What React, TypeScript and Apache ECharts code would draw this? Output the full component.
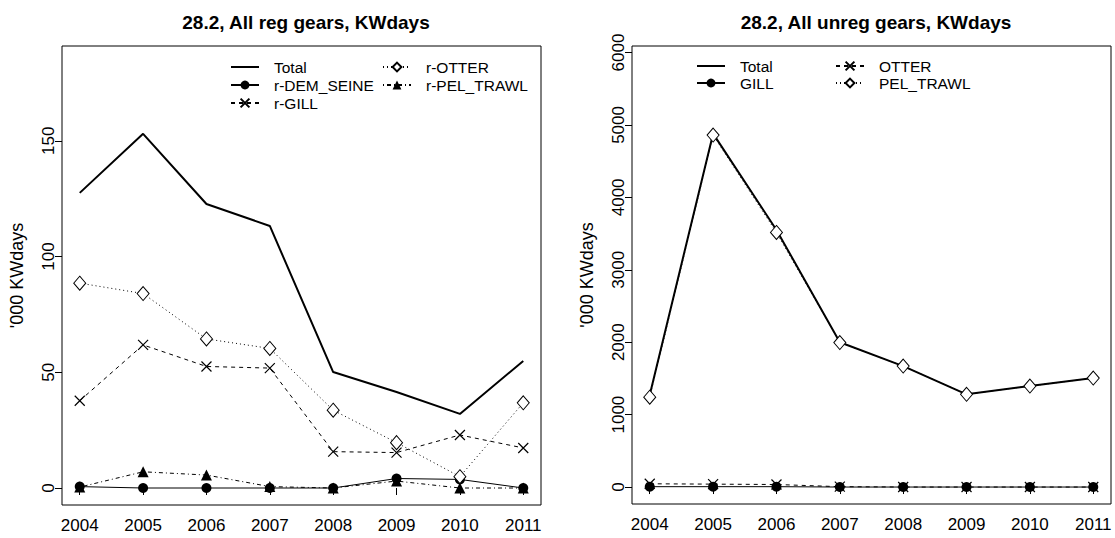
import React, { useEffect, useRef } from "react";
import * as echarts from "echarts";

const years = [2004, 2005, 2006, 2007, 2008, 2009, 2010, 2011];

// Left panel: 28.2, All reg gears
const leftTotal = [127.5, 153, 122.7, 113.2, 50.1, 41.5, 32, 54.9];
const leftDemSeine = [0.6, 0, 0, 0, 0, 4.1, 3.7, 0];
const leftGill = [37.7, 61.8, 52.5, 51.8, 15.7, 15.3, 22.9, 17.3];
const leftOtter = [88.5, 84, 64.4, 60.3, 33.6, 19.6, 4.9, 36.8];
const leftPelTrawl = [0.4, 7, 5.6, 0.6, 0, 3, 0, 0];

// Right panel: 28.2, All unreg gears
const rightTotal = [1270, 4880, 3550, 2000, 1670, 1280, 1395, 1505];
const rightGill = [5, 5, 5, 0, 0, 0, 0, 0];
const rightOtter = [45, 40, 35, 5, 0, 0, 0, 0];
const rightPelTrawl = [1240, 4860, 3515, 1995, 1670, 1280, 1395, 1505];

const leftYTicks = [0, 50, 100, 150];
const rightYTicks = [0, 1000, 2000, 3000, 4000, 5000, 6000];

const leftTitle = "28.2, All reg gears, KWdays";
const rightTitle = "28.2, All unreg gears, KWdays";
const yName = "'000 KWdays";

const FONT = "Liberation Sans, Arial, Helvetica, sans-serif";
const X_SYMBOL = "path://M0,0L10,10M10,0L0,10";

const pairs = (vals: number[]) => years.map((y, i) => [y, vals[i]]);

function lineSeries(
  name: string,
  vals: number[],
  idx: number,
  kind: "total" | "circle" | "cross" | "diamond" | "triangle",
  dash: any
) {
  const base: any = {
    type: "line",
    name,
    data: pairs(vals),
    xAxisIndex: idx,
    yAxisIndex: idx,
    lineStyle: { color: "#000", width: 1, type: dash },
    emphasis: { disabled: true },
    silent: true,
  };
  if (kind === "total") {
    base.symbol = "none";
    base.lineStyle.width = 2;
    base.itemStyle = { color: "rgba(0,0,0,0)", borderWidth: 0 };
  } else if (kind === "circle") {
    base.symbol = "circle";
    base.symbolSize = 10;
    base.itemStyle = { color: "#000" };
  } else if (kind === "triangle") {
    base.symbol = "triangle";
    base.symbolSize = 11;
    base.itemStyle = { color: "#000" };
  } else if (kind === "diamond") {
    base.symbol = "diamond";
    base.symbolSize = [12, 14];
    base.itemStyle = { color: "#fff", borderColor: "#000", borderWidth: 1 };
  } else {
    base.symbol = X_SYMBOL;
    base.symbolSize = 10;
    base.itemStyle = { color: "none", borderColor: "#000", borderWidth: 1.2 };
  }
  return base;
}

function xAxisCfg(gridIndex: number) {
  return {
    type: "value",
    gridIndex,
    min: 2004 - 0.28,
    max: 2011 + 0.28,
    splitLine: { show: false },
    axisLine: { show: false },
    axisTick: {
      show: true,
      inside: false,
      length: 7,
      customValues: years,
      lineStyle: { color: "#000", width: 1 },
    },
    axisLabel: {
      customValues: years,
      formatter: (v: number) => String(v),
      color: "#000",
      fontFamily: FONT,
      fontSize: 17,
      margin: 12,
    },
  };
}

function yAxisCfg(gridIndex: number, ticks: number[], maxData: number) {
  const pad = maxData * 0.04;
  return {
    type: "value",
    gridIndex,
    min: -pad,
    max: maxData + pad,
    splitLine: { show: false },
    axisLine: { show: false },
    name: yName,
    nameLocation: "middle",
    nameRotate: 90,
    nameGap: 36,
    nameTextStyle: { color: "#000", fontFamily: FONT, fontSize: 18 },
    axisTick: {
      show: true,
      inside: false,
      length: 7,
      customValues: ticks,
      lineStyle: { color: "#000", width: 1 },
    },
    axisLabel: {
      customValues: ticks,
      formatter: (v: number) => String(v),
      rotate: 90,
      color: "#000",
      fontFamily: FONT,
      fontSize: 17,
      margin: 5,
    },
  };
}

function legendCfg(left: number, top: number, names: string[], gap: number) {
  return {
    orient: "vertical",
    left,
    top,
    padding: 0,
    data: names,
    itemWidth: 28,
    itemHeight: 11,
    itemGap: gap,
    selectedMode: false,
    textStyle: {
      color: "#000",
      fontFamily: FONT,
      fontSize: 15.5,
      padding: [0, 0, 0, 10],
    },
  };
}

export default function App() {
  const ref = useRef<HTMLDivElement>(null);
  useEffect(() => {
    document.body.style.margin = "0";
    if (!ref.current) return;
    const chart = echarts.init(ref.current, undefined, { renderer: "svg" });
    const leftMax = Math.max(...leftTotal) * 1.2;
    const rightMax = Math.max(...rightTotal) * 1.2;
    chart.setOption({
      animation: false,
      backgroundColor: "#fff",
      title: [
        {
          text: leftTitle,
          left: 301,
          top: 8,
          textAlign: "center",
          textStyle: { color: "#000", fontFamily: FONT, fontSize: 19, fontWeight: "bold" },
        },
        {
          text: rightTitle,
          left: 871,
          top: 8,
          textAlign: "center",
          textStyle: { color: "#000", fontFamily: FONT, fontSize: 19, fontWeight: "bold" },
        },
      ],
      grid: [
        { left: 62, top: 46, width: 479, height: 459, show: true, borderColor: "#000", borderWidth: 1, backgroundColor: "transparent" },
        { left: 632, top: 46, width: 479, height: 458, show: true, borderColor: "#000", borderWidth: 1, backgroundColor: "transparent" },
      ],
      xAxis: [xAxisCfg(0), xAxisCfg(1)],
      yAxis: [yAxisCfg(0, leftYTicks, leftMax), yAxisCfg(1, rightYTicks, rightMax)],
      legend: [
        legendCfg(230, 59, ["Total", "r-DEM_SEINE", "r-GILL"], 2),
        legendCfg(382, 59, ["r-OTTER", "r-PEL_TRAWL"], 2),
        legendCfg(696, 58, ["Total", "GILL"], 1),
        legendCfg(835, 58, ["OTTER", "PEL_TRAWL"], 1),
      ],
      series: [
        lineSeries("Total", leftTotal, 0, "total", "solid"),
        lineSeries("r-DEM_SEINE", leftDemSeine, 0, "circle", "solid"),
        lineSeries("r-GILL", leftGill, 0, "cross", [4, 4]),
        lineSeries("r-OTTER", leftOtter, 0, "diamond", [1, 3]),
        lineSeries("r-PEL_TRAWL", leftPelTrawl, 0, "triangle", [1, 3, 4, 3]),
        lineSeries("Total", rightTotal, 1, "total", "solid"),
        lineSeries("GILL", rightGill, 1, "circle", "solid"),
        lineSeries("OTTER", rightOtter, 1, "cross", [4, 4]),
        lineSeries("PEL_TRAWL", rightPelTrawl, 1, "diamond", [1, 3]),
      ],
    });
    return () => chart.dispose();
  }, []);
  return <div ref={ref} style={{ width: 1115, height: 538 }} />;
}
